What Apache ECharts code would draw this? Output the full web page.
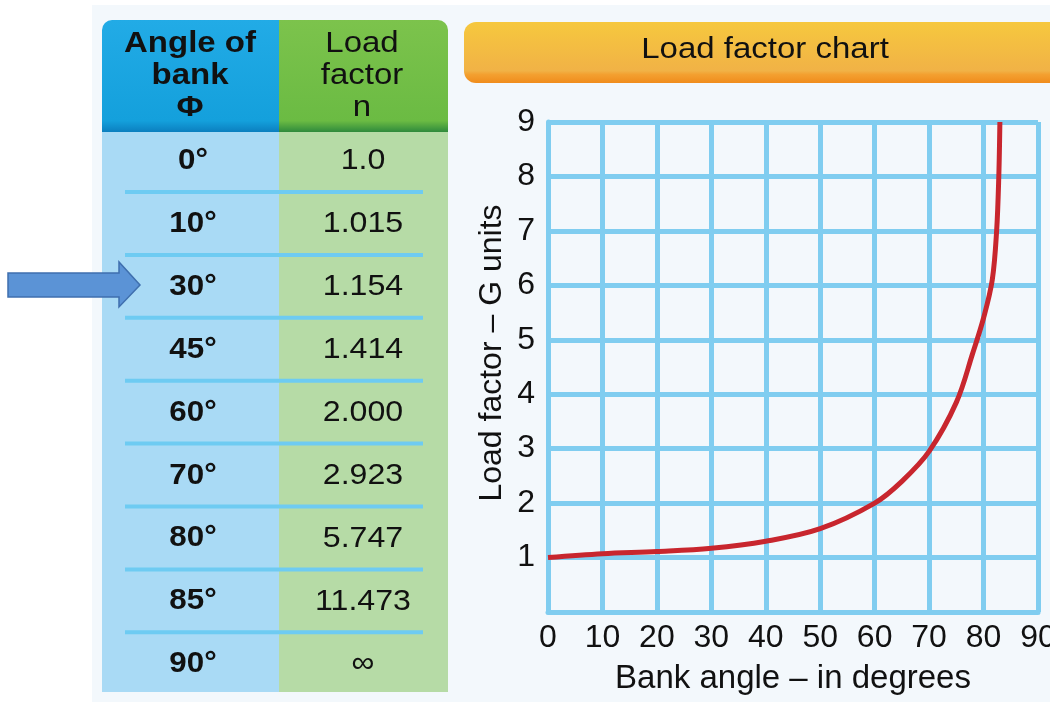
<!DOCTYPE html>
<html>
<head>
<meta charset="utf-8">
<script src="https://cdn.jsdelivr.net/npm/echarts@6/dist/echarts.min.js"></script>
<style>
  html, body { margin: 0; padding: 0; background: #fff; }
  #chart { width: 1050px; height: 702px; }
</style>
</head>
<body>
<div id="chart"></div>
<script>
// table values
var bankAngles = ['0°', '10°', '30°', '45°', '60°', '70°', '80°', '85°', '90°'];
var loadFactors = ['1.0', '1.015', '1.154', '1.414', '2.000', '2.923', '5.747', '11.473', '∞'];

// curve (bank angle, load factor)
var curveAngles = [0, 10, 20, 30, 40, 50, 60, 65, 70, 75, 78, 80, 81.6, 82.4, 82.8, 83];
var curveLoads = [1.0, 1.07, 1.11, 1.17, 1.3, 1.53, 2.0, 2.4, 2.95, 3.85, 4.75, 5.4, 6.1, 7.0, 8.0, 9.0];

var xTicks = [0, 10, 20, 30, 40, 50, 60, 70, 80, 90];

var font = '"Liberation Sans", Arial, sans-serif';
var gridColor = '#80cdf0';

var myChart = echarts.init(document.getElementById('chart'));

// slightly wide text, like the original artwork
function label(x, y, text, size, bold, sx, lh) {
  return {
    type: 'text', x: x, y: y, scaleX: sx || 1.08, z: 3,
    style: { text: text, font: (bold ? 'bold ' : '') + size + 'px ' + font, lineHeight: lh,
      fill: '#111', align: 'center', verticalAlign: 'middle' }
  };
}

var graphics = [];
// pale panel behind the figure
graphics.push({ type: 'rect', shape: { x: 92, y: 5, width: 958, height: 697 }, style: { fill: '#f3f8fc' }, z: 0 });

// header cells
graphics.push({
  type: 'rect', shape: { x: 102, y: 20, width: 177, height: 112, r: [10, 0, 0, 0] },
  style: { fill: new echarts.graphic.LinearGradient(0, 0, 0, 1, [
    { offset: 0, color: '#22abe6' }, { offset: 0.9, color: '#14a0dc' }, { offset: 1, color: '#0b7fbf' }]) }, z: 1
});
graphics.push({
  type: 'rect', shape: { x: 279, y: 20, width: 169, height: 112, r: [0, 10, 0, 0] },
  style: { fill: new echarts.graphic.LinearGradient(0, 0, 0, 1, [
    { offset: 0, color: '#7cc34c' }, { offset: 0.9, color: '#6bbb43' }, { offset: 1, color: '#2f8a3c' }]) }, z: 1
});
graphics.push(label(190, 76, 'Angle of\nbank\nΦ', 30, true, 1.1, 32));
graphics.push(label(362, 76, 'Load\nfactor\nn', 30, false, 1.1, 32));

// body columns
graphics.push({ type: 'rect', shape: { x: 102, y: 132, width: 177, height: 560 }, style: { fill: '#a9daf5' }, z: 1 });
graphics.push({ type: 'rect', shape: { x: 279, y: 132, width: 169, height: 560 }, style: { fill: '#b6dba6' }, z: 1 });

var rowH = 62.9;
for (var i = 0; i < bankAngles.length; i++) {
  var cy = 161 + i * rowH;
  graphics.push(label(193, cy, bankAngles[i], 29, true, 1.08));
  graphics.push(label(363, cy, loadFactors[i], 30, false, 1.07));
  if (i < bankAngles.length - 1) {
    graphics.push({ type: 'rect', shape: { x: 125, y: cy + 29, width: 298, height: 4 }, style: { fill: '#6ecbf2' }, z: 2 });
  }
}

// arrow pointing at the 30° row
graphics.push({
  type: 'polygon',
  shape: { points: [[8, 273], [119, 273], [119, 262], [140, 285], [119, 307], [119, 297], [8, 297]] },
  style: { fill: '#5b93d6', stroke: '#3f6fae', lineWidth: 1.5 }, z: 3
});

// chart title bar
graphics.push({
  type: 'rect', shape: { x: 464, y: 22, width: 600, height: 61, r: 12 },
  style: { fill: new echarts.graphic.LinearGradient(0, 0, 0, 1, [
    { offset: 0, color: '#f6c83e' }, { offset: 0.8, color: '#f1b246' }, { offset: 0.86, color: '#f3a030' }, { offset: 1, color: '#f08c1c' }]) }, z: 1
});
graphics.push(label(765, 50, 'Load factor chart', 30, false, 1.1));

var option = {
  backgroundColor: '#ffffff',
  animation: false,
  graphic: graphics,
  grid: { left: 548, right: 12, top: 122, bottom: 90, containLabel: false, outerBoundsMode: 'none' },
  xAxis: {
    type: 'value', min: 0, max: 90, interval: 10,
    name: 'Bank angle – in degrees', nameLocation: 'middle', nameGap: 50,
    nameTextStyle: { fontFamily: font, fontSize: 33, color: '#111' },
    axisLine: { show: true, lineStyle: { color: gridColor, width: 5 } },
    axisTick: { show: false },
    axisLabel: { fontFamily: font, fontSize: 32, color: '#111', margin: 10,
      formatter: function (v) { return xTicks.indexOf(v) >= 0 ? String(v) : ''; } },
    splitLine: { show: true, lineStyle: { color: gridColor, width: 5 } }
  },
  yAxis: {
    type: 'value', min: 0, max: 9, interval: 1,
    name: 'Load factor – G units', nameLocation: 'middle', nameGap: 40,
    nameTextStyle: { fontFamily: font, fontSize: 32, color: '#111', padding: [0, 0, 0, 28] },
    axisLine: { show: true, lineStyle: { color: gridColor, width: 5 } },
    axisTick: { show: false },
    axisLabel: { fontFamily: font, fontSize: 32, color: '#111', margin: 13,
      formatter: function (v) { return v === 0 ? '' : String(v); } },
    splitLine: { show: true, lineStyle: { color: gridColor, width: 5 } }
  },
  series: [{
    type: 'line',
    data: curveAngles.map(function (a, k) { return [a, curveLoads[k]]; }),
    smooth: 0.35,
    showSymbol: false,
    lineStyle: { color: '#c8262e', width: 5 },
    z: 5
  }]
};
myChart.setOption(option);
</script>
</body>
</html>
